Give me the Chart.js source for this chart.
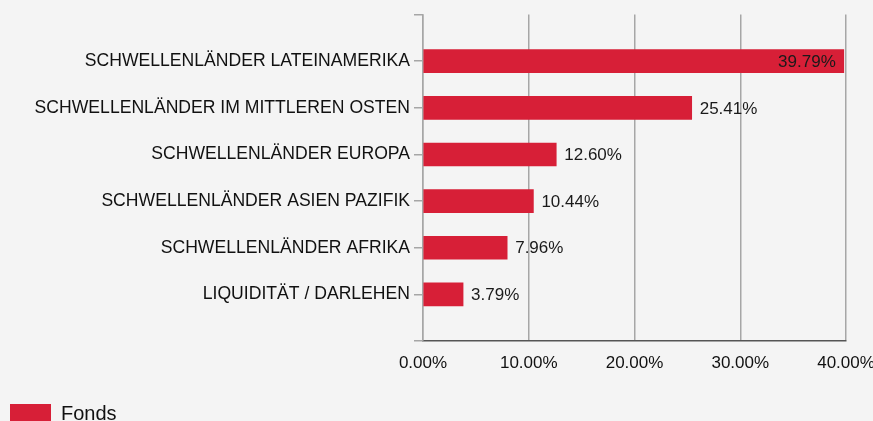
<!DOCTYPE html>
<html>
<head>
<meta charset="utf-8">
<script src="https://cdn.jsdelivr.net/npm/chart.js@4"></script>
<style>
  html, body { margin: 0; padding: 0; background: #f4f4f4; overflow: hidden; }
  #wrap { width: 873px; height: 440px; }
</style>
</head>
<body>
<div id="wrap"><canvas id="bar-chart"></canvas></div>
<script>
// Kategorier och värden
const categories = [
    "SCHWELLENLÄNDER LATEINAMERIKA",
    "SCHWELLENLÄNDER IM MITTLEREN OSTEN",
    "SCHWELLENLÄNDER EUROPA",
    "SCHWELLENLÄNDER ASIEN PAZIFIK",
    "SCHWELLENLÄNDER AFRIKA",
    "LIQUIDITÄT / DARLEHEN"
];
const fondsValues = [39.79, 25.41, 12.60, 10.44, 7.96, 3.79];
const seriesName = "Fonds";
const xTicks = [0, 10, 20, 30, 40];

// Tomma etiketter i kanterna ger luft över och under staplarna
const labels = ["", ...categories, ""];
const data = [null, ...fondsValues, null];

// Eget plugin för värdeetiketter
const valueLabels = {
    id: 'valueLabels',
    afterDatasetsDraw(chart) {
        const ctx = chart.ctx;
        const meta = chart.getDatasetMeta(0);
        ctx.save();
        ctx.font = '17px "Liberation Sans", Arial, sans-serif';
        ctx.fillStyle = '#1a1a1a';
        ctx.textBaseline = 'middle';
        meta.data.forEach((bar, i) => {
            const v = data[i];
            if (v === null) return;
            const text = v.toFixed(2) + '%';
            const w = ctx.measureText(text).width;
            if (bar.x + 8 + w > chart.chartArea.right) {
                ctx.textAlign = 'right';
                ctx.fillText(text, bar.x - 8, bar.y + 1);
            } else {
                ctx.textAlign = 'left';
                ctx.fillText(text, bar.x + 8, bar.y + 1);
            }
        });
        ctx.restore();
    }
};

new Chart(document.getElementById('bar-chart'), {
    type: 'bar',
    data: {
        labels: labels,
        datasets: [{
            label: seriesName,
            data: data,
            backgroundColor: '#d71f37',
            borderWidth: 0,
            barThickness: 23
        }]
    },
    options: {
        indexAxis: 'y',
        responsive: true,
        maintainAspectRatio: false,
        animation: false,
        layout: { padding: { top: 14, right: 27, left: 0, bottom: 6 } },
        plugins: {
            tooltip: { enabled: false },
            legend: {
                position: 'bottom',
                align: 'start',
                labels: {
                    boxWidth: 41,
                    boxHeight: 20,
                    padding: 10,
                    color: '#111',
                    font: { family: '"Liberation Sans", Arial, sans-serif', size: 20 }
                }
            }
        },
        scales: {
            x: {
                min: 0,
                max: 40,
                afterBuildTicks: scale => { scale.ticks = xTicks.map(v => ({ value: v })); },
                afterFit: scale => { scale.height = 53; scale.paddingLeft = 0; scale.paddingRight = 0; },
                grid: { color: '#a6a6a6', lineWidth: 1.5, drawTicks: false },
                border: { color: '#555', width: 1.5 },
                ticks: {
                    padding: 12,
                    color: '#111',
                    font: { family: '"Liberation Sans", Arial, sans-serif', size: 17 },
                    callback: v => v.toFixed(2) + '%'
                }
            },
            y: {
                offset: false,
                afterFit: scale => { scale.width = 423; },
                grid: { offset: false, drawOnChartArea: false, drawTicks: true, tickLength: 9, color: '#a6a6a6', lineWidth: 1.5 },
                border: { color: '#a6a6a6', width: 1.5 },
                ticks: {
                    padding: 4,
                    autoSkip: false,
                    color: '#111',
                    font: { family: '"Liberation Sans", Arial, sans-serif', size: 17.6 }
                }
            }
        }
    },
    plugins: [valueLabels]
});
</script>
</body>
</html>
